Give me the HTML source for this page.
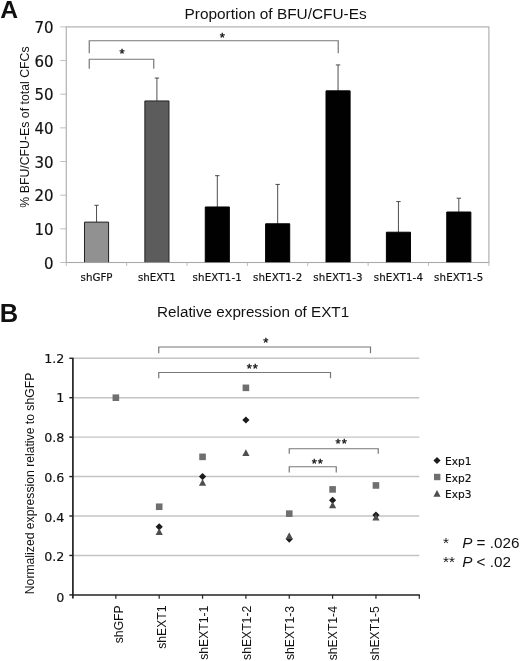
<!DOCTYPE html><html><head><meta charset="utf-8"><title>Figure</title><style>html,body{margin:0;padding:0;background:#fff}svg{display:block}.v{font-family:"DejaVu Sans","Liberation Sans",sans-serif;fill:#111;stroke:#111;stroke-width:.18px}.a{font-family:"Liberation Sans",sans-serif;fill:#111}</style></head><body>
<svg width="520" height="661" viewBox="0 0 520 661">
<rect width="520" height="661" fill="#fff"/>
<g opacity="0.999">
<text class="a" x="0.3" y="17.9" font-size="24.7" font-weight="bold">A</text>
<text class="a" x="184.5" y="19.2" font-size="15.4">Proportion of BFU/CFU-Es</text>
<rect x="66.25" y="26.9" width="422.65" height="235.6" fill="none" stroke="#a9a9a9" stroke-width="1.1"/>
<line x1="60.25" y1="262.50" x2="66.25" y2="262.50" stroke="#b8b8b8" stroke-width="0.9"/>
<text class="v" x="53.6" y="268.70" font-size="15" stroke-width="0.4" text-anchor="end">0</text>
<line x1="60.25" y1="228.84" x2="66.25" y2="228.84" stroke="#b8b8b8" stroke-width="0.9"/>
<text class="v" x="53.6" y="235.04" font-size="15" stroke-width="0.4" text-anchor="end">10</text>
<line x1="60.25" y1="195.19" x2="66.25" y2="195.19" stroke="#b8b8b8" stroke-width="0.9"/>
<text class="v" x="53.6" y="201.39" font-size="15" stroke-width="0.4" text-anchor="end">20</text>
<line x1="60.25" y1="161.53" x2="66.25" y2="161.53" stroke="#b8b8b8" stroke-width="0.9"/>
<text class="v" x="53.6" y="167.73" font-size="15" stroke-width="0.4" text-anchor="end">30</text>
<line x1="60.25" y1="127.87" x2="66.25" y2="127.87" stroke="#b8b8b8" stroke-width="0.9"/>
<text class="v" x="53.6" y="134.07" font-size="15" stroke-width="0.4" text-anchor="end">40</text>
<line x1="60.25" y1="94.21" x2="66.25" y2="94.21" stroke="#b8b8b8" stroke-width="0.9"/>
<text class="v" x="53.6" y="100.41" font-size="15" stroke-width="0.4" text-anchor="end">50</text>
<line x1="60.25" y1="60.56" x2="66.25" y2="60.56" stroke="#b8b8b8" stroke-width="0.9"/>
<text class="v" x="53.6" y="66.76" font-size="15" stroke-width="0.4" text-anchor="end">60</text>
<line x1="60.25" y1="26.90" x2="66.25" y2="26.90" stroke="#b8b8b8" stroke-width="0.9"/>
<text class="v" x="53.6" y="33.10" font-size="15" stroke-width="0.4" text-anchor="end">70</text>
<line x1="66.25" y1="262.5" x2="66.25" y2="266.0" stroke="#b4b4b4" stroke-width="0.9"/>
<line x1="126.63" y1="262.5" x2="126.63" y2="266.0" stroke="#b4b4b4" stroke-width="0.9"/>
<line x1="187.01" y1="262.5" x2="187.01" y2="266.0" stroke="#b4b4b4" stroke-width="0.9"/>
<line x1="247.39" y1="262.5" x2="247.39" y2="266.0" stroke="#b4b4b4" stroke-width="0.9"/>
<line x1="307.76" y1="262.5" x2="307.76" y2="266.0" stroke="#b4b4b4" stroke-width="0.9"/>
<line x1="368.14" y1="262.5" x2="368.14" y2="266.0" stroke="#b4b4b4" stroke-width="0.9"/>
<line x1="428.52" y1="262.5" x2="428.52" y2="266.0" stroke="#b4b4b4" stroke-width="0.9"/>
<line x1="488.90" y1="262.5" x2="488.90" y2="266.0" stroke="#b4b4b4" stroke-width="0.9"/>
<line x1="96.54" y1="205.28" x2="96.54" y2="222.11" stroke="#3a3a3a" stroke-width="0.9"/>
<line x1="94.34" y1="205.28" x2="98.74" y2="205.28" stroke="#3a3a3a" stroke-width="0.9"/>
<path d="M84.49 262.20V222.11H108.59V262.20" fill="#919191" stroke="#222" stroke-width="1"/>
<text class="v" x="96.54" y="281.4" font-size="10.25" stroke-width="0.32" text-anchor="middle">shGFP</text>
<line x1="156.92" y1="78.06" x2="156.92" y2="100.95" stroke="#3a3a3a" stroke-width="0.9"/>
<line x1="154.72" y1="78.06" x2="159.12" y2="78.06" stroke="#3a3a3a" stroke-width="0.9"/>
<path d="M144.87 262.20V100.95H168.97V262.20" fill="#5c5c5c" stroke="#222" stroke-width="1"/>
<text class="v" x="156.92" y="281.4" font-size="10.25" stroke-width="0.32" text-anchor="middle">shEXT1</text>
<line x1="217.30" y1="175.66" x2="217.30" y2="206.97" stroke="#3a3a3a" stroke-width="0.9"/>
<line x1="215.10" y1="175.66" x2="219.50" y2="175.66" stroke="#3a3a3a" stroke-width="0.9"/>
<path d="M205.25 262.20V206.97H229.35V262.20" fill="#000" stroke="#000" stroke-width="1"/>
<text class="v" x="217.30" y="281.4" font-size="10.25" stroke-width="0.32" text-anchor="middle" letter-spacing="0.16">shEXT1-1</text>
<line x1="277.68" y1="184.42" x2="277.68" y2="223.79" stroke="#3a3a3a" stroke-width="0.9"/>
<line x1="275.48" y1="184.42" x2="279.88" y2="184.42" stroke="#3a3a3a" stroke-width="0.9"/>
<path d="M265.62 262.20V223.79H289.73V262.20" fill="#000" stroke="#000" stroke-width="1"/>
<text class="v" x="277.68" y="281.4" font-size="10.25" stroke-width="0.32" text-anchor="middle" letter-spacing="0.16">shEXT1-2</text>
<line x1="338.05" y1="64.93" x2="338.05" y2="90.85" stroke="#3a3a3a" stroke-width="0.9"/>
<line x1="335.85" y1="64.93" x2="340.25" y2="64.93" stroke="#3a3a3a" stroke-width="0.9"/>
<path d="M326.00 262.20V90.85H350.10V262.20" fill="#000" stroke="#000" stroke-width="1"/>
<text class="v" x="338.05" y="281.4" font-size="10.25" stroke-width="0.32" text-anchor="middle" letter-spacing="0.16">shEXT1-3</text>
<line x1="398.43" y1="201.58" x2="398.43" y2="232.21" stroke="#3a3a3a" stroke-width="0.9"/>
<line x1="396.23" y1="201.58" x2="400.63" y2="201.58" stroke="#3a3a3a" stroke-width="0.9"/>
<path d="M386.38 262.20V232.21H410.48V262.20" fill="#000" stroke="#000" stroke-width="1"/>
<text class="v" x="398.43" y="281.4" font-size="10.25" stroke-width="0.32" text-anchor="middle" letter-spacing="0.16">shEXT1-4</text>
<line x1="458.81" y1="198.21" x2="458.81" y2="212.01" stroke="#3a3a3a" stroke-width="0.9"/>
<line x1="456.61" y1="198.21" x2="461.01" y2="198.21" stroke="#3a3a3a" stroke-width="0.9"/>
<path d="M446.76 262.20V212.01H470.86V262.20" fill="#000" stroke="#000" stroke-width="1"/>
<text class="v" x="458.81" y="281.4" font-size="10.25" stroke-width="0.32" text-anchor="middle" letter-spacing="0.16">shEXT1-5</text>
<text class="a" font-size="12.3" text-anchor="end" transform="translate(28.7,46.4) rotate(-90)">% BFU/CFU-Es of total CFCs</text>
<path d="M89.25 53.3V40.75H338.25V53.3" fill="none" stroke="#777" stroke-width="1.2"/>
<path d="M89.25 68.8V59.25H153.75V68.8" fill="none" stroke="#777" stroke-width="1.2"/>
<text class="a" x="222.2" y="42.0" font-size="13" stroke="#111" stroke-width="0.35" text-anchor="middle">*</text>
<text class="a" x="122" y="58.1" font-size="13" stroke="#111" stroke-width="0.35" text-anchor="middle">*</text>
<text class="a" x="-0.2" y="321.7" font-size="25.5" font-weight="bold">B</text>
<text class="a" x="157.1" y="317.0" font-size="15.23">Relative expression of EXT1</text>
<line x1="72.5" y1="555.46" x2="419.3" y2="555.46" stroke="#c4c4c4" stroke-width="1.4"/>
<line x1="72.5" y1="516.02" x2="419.3" y2="516.02" stroke="#c4c4c4" stroke-width="1.4"/>
<line x1="72.5" y1="476.57" x2="419.3" y2="476.57" stroke="#c4c4c4" stroke-width="1.4"/>
<line x1="72.5" y1="437.13" x2="419.3" y2="437.13" stroke="#c4c4c4" stroke-width="1.4"/>
<line x1="72.5" y1="397.69" x2="419.3" y2="397.69" stroke="#c4c4c4" stroke-width="1.4"/>
<line x1="72.5" y1="358.25" x2="419.3" y2="358.25" stroke="#c4c4c4" stroke-width="1.4"/>
<line x1="69.3" y1="594.90" x2="72.5" y2="594.90" stroke="#222" stroke-width="1.4"/>
<text class="v" x="64.4" y="601.83" font-size="12.7" text-anchor="end">0</text>
<line x1="69.3" y1="555.46" x2="72.5" y2="555.46" stroke="#222" stroke-width="1.4"/>
<text class="v" x="64.4" y="561.23" font-size="12.7" text-anchor="end">0.2</text>
<line x1="69.3" y1="516.02" x2="72.5" y2="516.02" stroke="#222" stroke-width="1.4"/>
<text class="v" x="64.4" y="521.63" font-size="12.7" text-anchor="end">0.4</text>
<line x1="69.3" y1="476.57" x2="72.5" y2="476.57" stroke="#222" stroke-width="1.4"/>
<text class="v" x="64.4" y="482.03" font-size="12.7" text-anchor="end">0.6</text>
<line x1="69.3" y1="437.13" x2="72.5" y2="437.13" stroke="#222" stroke-width="1.4"/>
<text class="v" x="64.4" y="442.03" font-size="12.7" text-anchor="end">0.8</text>
<line x1="69.3" y1="397.69" x2="72.5" y2="397.69" stroke="#222" stroke-width="1.4"/>
<text class="v" x="64.4" y="402.43" font-size="12.7" text-anchor="end">1</text>
<line x1="69.3" y1="358.25" x2="72.5" y2="358.25" stroke="#222" stroke-width="1.4"/>
<text class="v" x="64.4" y="362.63" font-size="12.7" text-anchor="end">1.2</text>
<line x1="72.9" y1="357.75" x2="72.9" y2="598.5" stroke="#222" stroke-width="1.7"/>
<line x1="71.8" y1="594.9" x2="419.90000000000003" y2="594.9" stroke="#222" stroke-width="1.5"/>
<line x1="115.85" y1="594.9" x2="115.85" y2="598.6999999999999" stroke="#222" stroke-width="1.2"/>
<line x1="159.20" y1="594.9" x2="159.20" y2="598.6999999999999" stroke="#222" stroke-width="1.2"/>
<line x1="202.55" y1="594.9" x2="202.55" y2="598.6999999999999" stroke="#222" stroke-width="1.2"/>
<line x1="245.90" y1="594.9" x2="245.90" y2="598.6999999999999" stroke="#222" stroke-width="1.2"/>
<line x1="289.25" y1="594.9" x2="289.25" y2="598.6999999999999" stroke="#222" stroke-width="1.2"/>
<line x1="332.60" y1="594.9" x2="332.60" y2="598.6999999999999" stroke="#222" stroke-width="1.2"/>
<line x1="375.95" y1="594.9" x2="375.95" y2="598.6999999999999" stroke="#222" stroke-width="1.2"/>
<line x1="419.30" y1="594.9" x2="419.30" y2="598.6999999999999" stroke="#222" stroke-width="1.2"/>
<text class="a" font-size="12.2" text-anchor="end" transform="translate(123.05,605.30) rotate(-90)">shGFP</text>
<text class="a" font-size="12.2" text-anchor="end" transform="translate(165.75,605.45) rotate(-90)">shEXT1</text>
<text class="a" font-size="12.2" text-anchor="end" transform="translate(208.45,605.60) rotate(-90)">shEXT1-1</text>
<text class="a" font-size="12.2" text-anchor="end" transform="translate(251.15,605.75) rotate(-90)">shEXT1-2</text>
<text class="a" font-size="12.2" text-anchor="end" transform="translate(293.85,605.90) rotate(-90)">shEXT1-3</text>
<text class="a" font-size="12.2" text-anchor="end" transform="translate(336.55,606.05) rotate(-90)">shEXT1-4</text>
<text class="a" font-size="12.2" text-anchor="end" transform="translate(379.25,606.20) rotate(-90)">shEXT1-5</text>
<text class="a" font-size="12.2" text-anchor="end" transform="translate(33.8,372.7) rotate(-90)">Normalized expression relative to shGFP</text>
<rect x="112.55" y="394.39" width="6.6" height="6.6" fill="#6f6f6f"/>
<path d="M159.20 523.26L162.80 526.86L159.20 530.46L155.60 526.86Z" fill="#1c1c1c"/>
<rect x="155.90" y="503.45" width="6.6" height="6.6" fill="#6f6f6f"/>
<path d="M159.20 528.19L162.80 534.99L155.60 534.99Z" fill="#4f4f4f"/>
<path d="M202.55 472.97L206.15 476.57L202.55 480.18L198.95 476.57Z" fill="#1c1c1c"/>
<rect x="199.25" y="453.55" width="6.6" height="6.6" fill="#6f6f6f"/>
<path d="M202.55 478.89L206.15 485.69L198.95 485.69Z" fill="#4f4f4f"/>
<path d="M245.90 416.38L249.50 419.98L245.90 423.58L242.30 419.98Z" fill="#1c1c1c"/>
<rect x="242.60" y="384.53" width="6.6" height="6.6" fill="#6f6f6f"/>
<path d="M245.90 449.31L249.50 456.11L242.30 456.11Z" fill="#4f4f4f"/>
<path d="M289.25 535.49L292.85 539.09L289.25 542.69L285.65 539.09Z" fill="#1c1c1c"/>
<rect x="285.95" y="510.35" width="6.6" height="6.6" fill="#6f6f6f"/>
<path d="M289.25 532.14L292.85 538.94L285.65 538.94Z" fill="#4f4f4f"/>
<path d="M332.60 496.64L336.20 500.24L332.60 503.84L329.00 500.24Z" fill="#1c1c1c"/>
<rect x="329.30" y="486.09" width="6.6" height="6.6" fill="#6f6f6f"/>
<path d="M332.60 501.57L336.20 508.37L329.00 508.37Z" fill="#4f4f4f"/>
<path d="M375.95 511.43L379.55 515.03L375.95 518.63L372.35 515.03Z" fill="#1c1c1c"/>
<rect x="372.65" y="482.15" width="6.6" height="6.6" fill="#6f6f6f"/>
<path d="M375.95 513.80L379.55 520.60L372.35 520.60Z" fill="#4f4f4f"/>
<path d="M158.75 353.3V347H370.5V353.3" fill="none" stroke="#777" stroke-width="1.2"/>
<path d="M158.75 378.3V372.5H330.5V378.3" fill="none" stroke="#777" stroke-width="1.2"/>
<path d="M289.25 453.8V448.75H378.25V453.8" fill="none" stroke="#777" stroke-width="1.2"/>
<path d="M289.25 472.5V466.75H336.25V472.5" fill="none" stroke="#777" stroke-width="1.2"/>
<text class="a" x="265.7" y="346.95" font-size="13" stroke="#111" stroke-width="0.35" text-anchor="middle">*</text>
<text class="a" x="246.7" y="373.3" font-size="13" stroke="#111" stroke-width="0.35" letter-spacing="1.1">**</text>
<text class="a" x="335.6" y="448.05" font-size="13" stroke="#111" stroke-width="0.35" letter-spacing="1.1">**</text>
<text class="a" x="311.7" y="467.65" font-size="13" stroke="#111" stroke-width="0.35" letter-spacing="1.1">**</text>
<path d="M437.00 456.90L440.60 460.50L437.00 464.10L433.40 460.50Z" fill="#1c1c1c"/>
<rect x="434.00" y="473.80" width="6.4" height="6.4" fill="#6f6f6f"/>
<path d="M437.00 490.00L440.60 496.80L433.40 496.80Z" fill="#4f4f4f"/>
<text class="v" x="445" y="465" font-size="10.6">Exp1</text>
<text class="v" x="445" y="481.7" font-size="10.6">Exp2</text>
<text class="v" x="445" y="498" font-size="10.6">Exp3</text>
<text class="a" x="443.0" y="547.8" font-size="15.25">*</text>
<text class="a" x="443.0" y="567.0" font-size="15.25">**</text>
<text class="a" x="462.2" y="547.8" font-size="15.25"><tspan font-style="italic">P</tspan> = .026</text>
<text class="a" x="462.2" y="567.0" font-size="15.25"><tspan font-style="italic">P</tspan> &lt; .02</text>
</g></svg></body></html>
